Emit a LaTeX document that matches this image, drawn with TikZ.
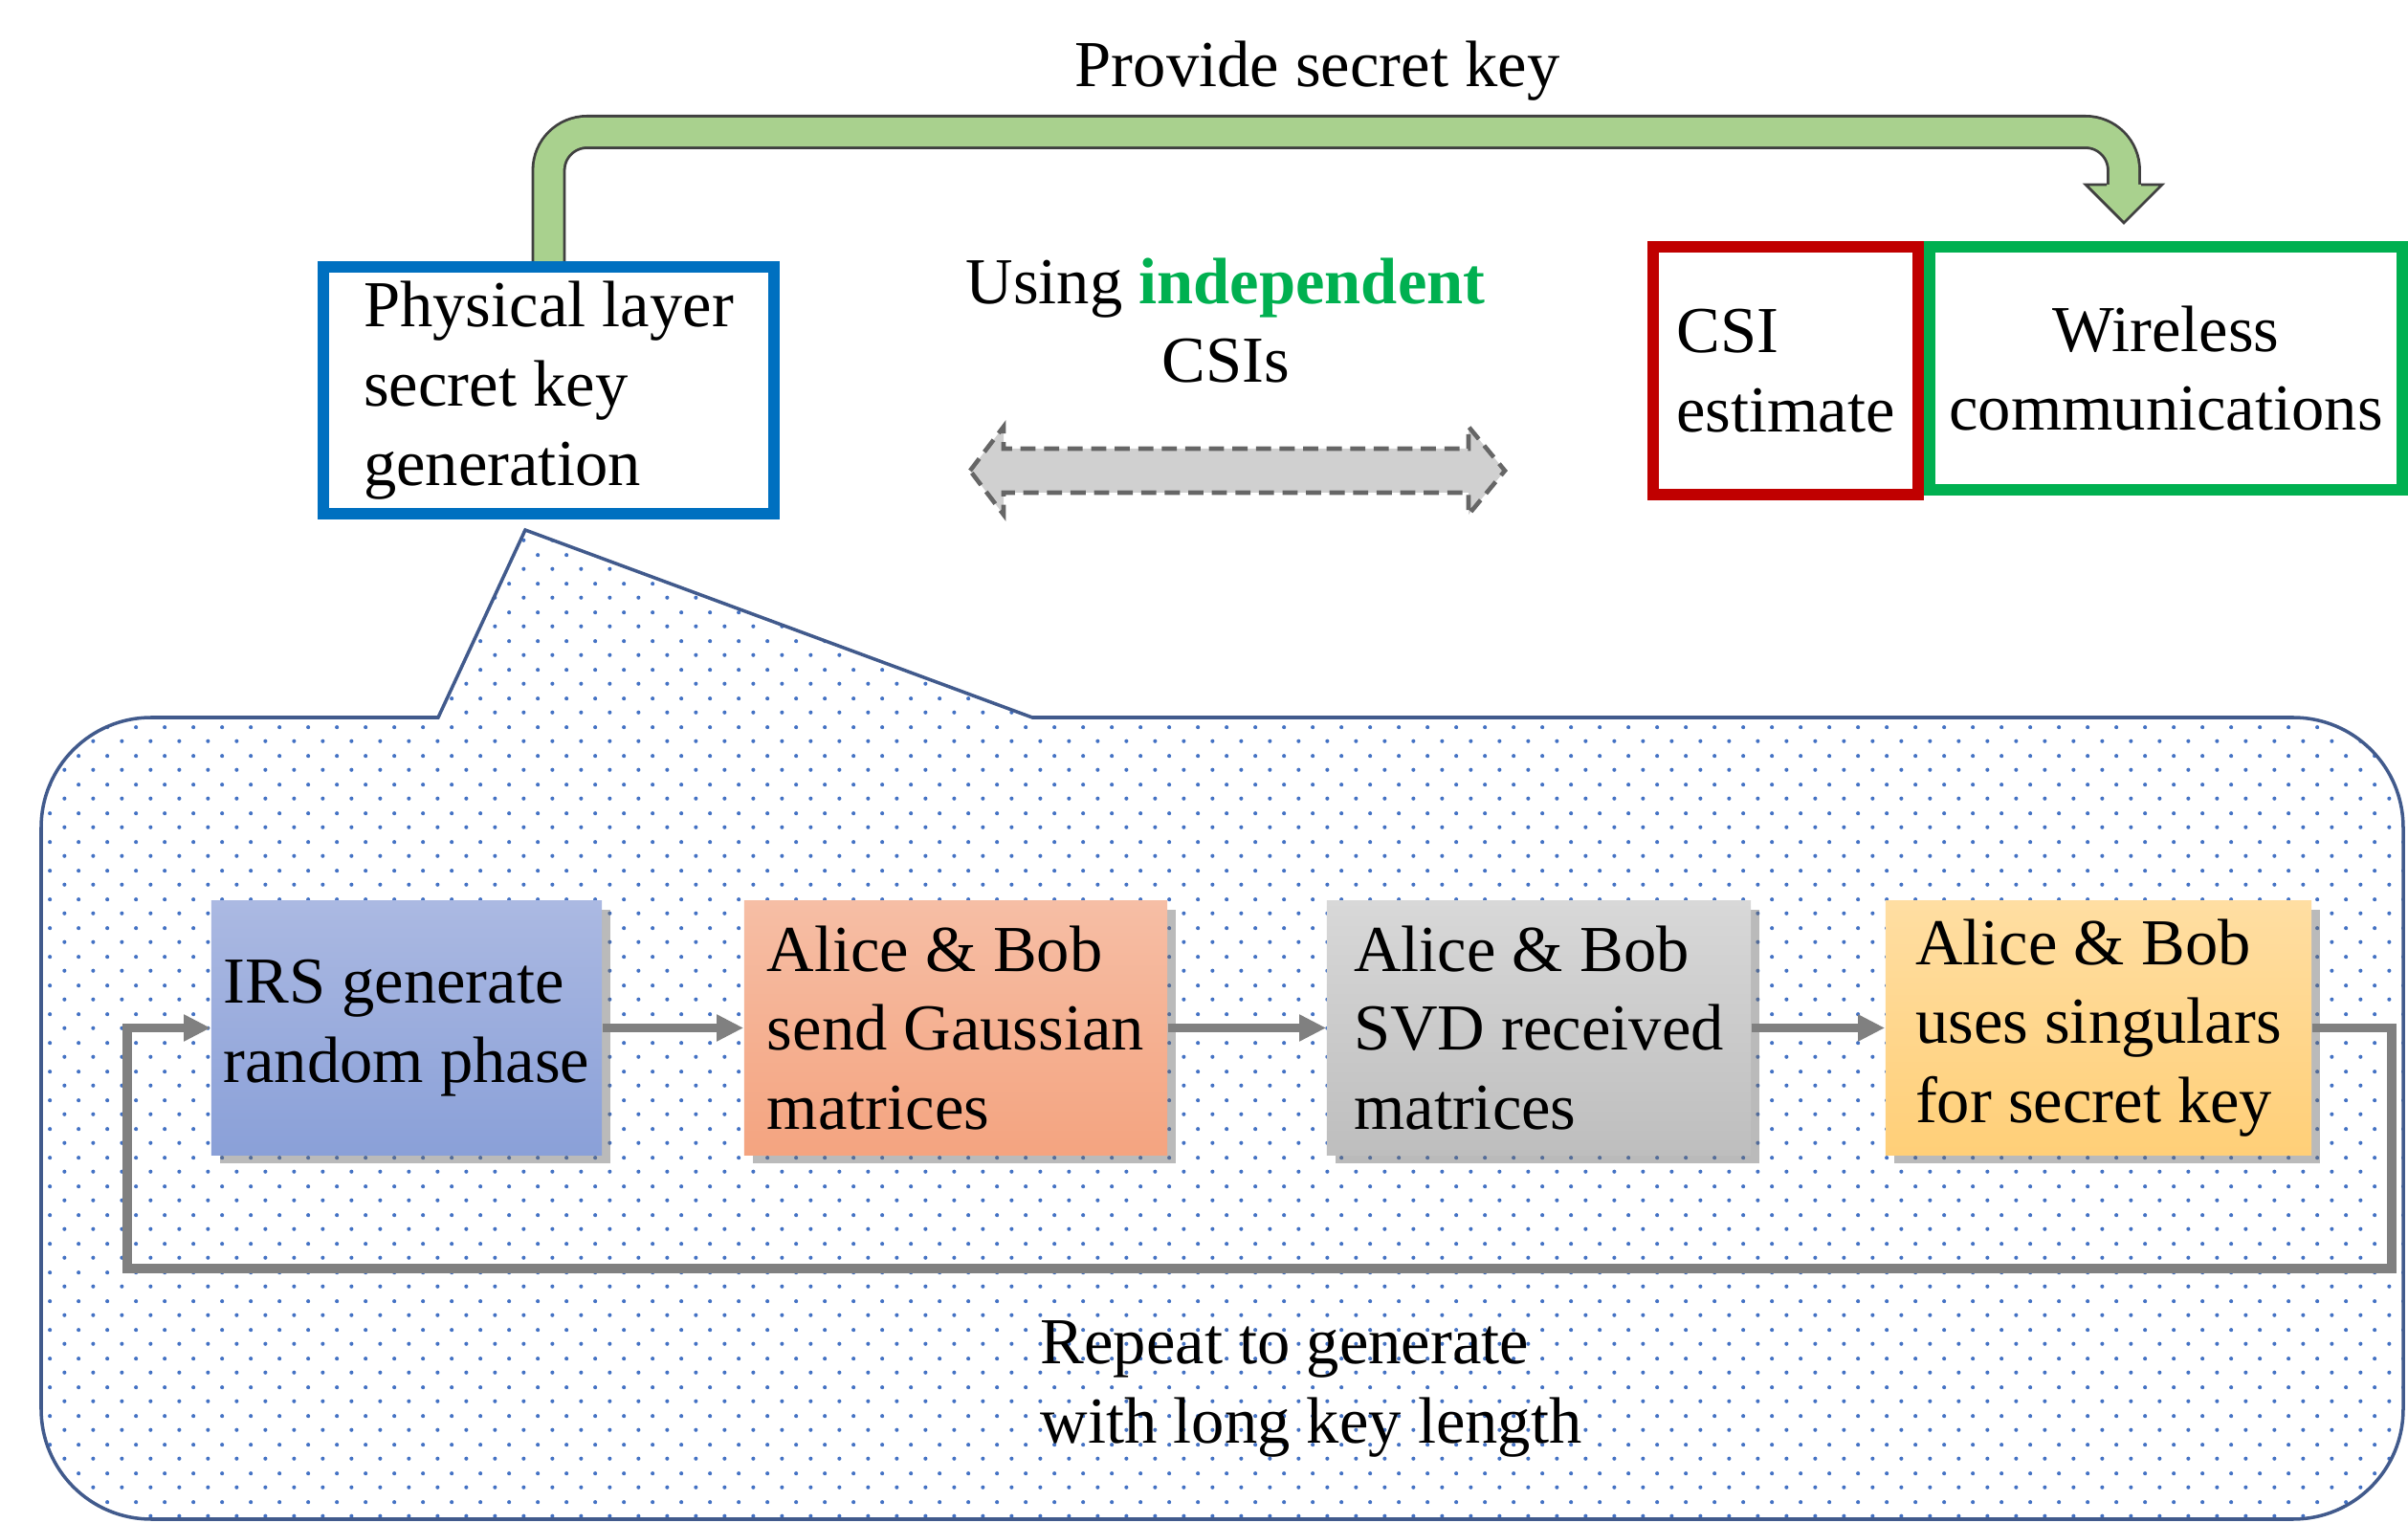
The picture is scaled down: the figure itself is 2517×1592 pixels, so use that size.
\documentclass[tikz,border=0pt]{standalone}
\usepackage{fontspec}
\setmainfont{Liberation Serif}
\usepackage{tikz}
\usetikzlibrary{arrows.meta,positioning,calc,shadows,patterns}
\definecolor{phyblue}{RGB}{0,112,192}
\definecolor{csired}{RGB}{192,0,0}
\definecolor{wirelessgreen}{RGB}{0,176,80}
\definecolor{keygreen}{RGB}{169,209,142}
\definecolor{dotblue}{RGB}{68,114,196}
\definecolor{calloutline}{RGB}{65,90,140}
\definecolor{flowgray}{RGB}{128,128,128}
\definecolor{csiarrow}{RGB}{208,208,208}
\definecolor{irstop}{RGB}{171,185,226}
\definecolor{irsbot}{RGB}{138,160,216}
\definecolor{gausstop}{RGB}{246,190,165}
\definecolor{gaussbot}{RGB}{244,164,128}
\definecolor{svdtop}{RGB}{216,216,216}
\definecolor{svdbot}{RGB}{190,190,190}
\definecolor{keytop}{RGB}{255,222,162}
\definecolor{keybot}{RGB}{255,207,120}
\newcommand{\boxfont}{\fontsize{19.5}{23.5}\selectfont}
\pgfdeclarepatternformonly{bluedots}{\pgfpointorigin}{\pgfqpoint{8.6pt}{8.4pt}}{\pgfqpoint{8.6pt}{8.4pt}}{%
  \pgfpathcircle{\pgfqpoint{2.15pt}{2.1pt}}{0.6pt}%
  \pgfpathcircle{\pgfqpoint{6.45pt}{6.3pt}}{0.6pt}%
  \pgfusepath{fill}}

\begin{document}
\begin{tikzpicture}[
    x=0.01cm, y=-0.01cm,
    topbox/.style={draw, line width=3.4pt, font=\boxfont, align=left, inner sep=0pt},
    stepbox/.style={font=\boxfont, align=left, inner sep=0pt, minimum height=2.65cm,
        drop shadow={shadow xshift=2.5pt, shadow yshift=-2.5pt, opacity=0.45, fill=black!60}},
    flow/.style={draw=flowgray, line width=2.6pt, -{Triangle[length=8pt,width=7.5pt]}},
    lbl/.style={font=\boxfont, inner sep=0pt}
]
\useasboundingbox (0,0) rectangle (2517,1592);

% 吹き出し
\draw[draw=calloutline, line width=1pt, preaction={fill=white}, pattern=bluedots, pattern color=dotblue]
    (300,750) -- (458,750) -- (549,554) -- (1079,750) -- (1200,750)
    [rounded corners=1.15cm] -- (2512,750) -- (2512,1588) -- (43,1588) -- (43,750) -- cycle;

% 上段のブロック
\node[topbox, draw=phyblue, minimum width=4.71cm, minimum height=2.58cm] (phy) at (573.5,408) {Physical layer\\secret key\\generation};
\node[topbox, draw=csired, minimum width=2.77cm, minimum height=2.59cm] (csi) at (1866.5,387.5) {CSI\\estimate};
\node[topbox, draw=wirelessgreen, align=center, minimum width=4.94cm, minimum height=2.54cm] (wl) at (2264,385) {Wireless\\communications};

% 鍵の受け渡し
\coordinate (keyin) at (2220,193);
\draw[draw=black!75, line width=0.8pt, double=keygreen, double distance=8.6pt, rounded corners=0.4cm]
    (phy.north) -- ++(0,-135) -| (keyin);
\filldraw[fill=keygreen, draw=black!75, line width=0.8pt]
    ($(keyin)+(-18,0)$) -- ($(keyin)+(-40,0)$) -- ($(keyin)+(0,40)$) -- ($(keyin)+(40,0)$) -- ($(keyin)+(18,0)$);
\node[lbl, anchor=base] (provide) at (1377,91) {Provide secret key};

% 独立なCSI
\node[lbl, align=center] (using) at (1281,335) {Using \textcolor{wirelessgreen}{\textbf{independent}}\\CSIs};
\draw[draw=black!60, fill=csiarrow, line width=1.3pt, dash pattern=on 4.5pt off 2.5pt]
    (1014,492) -- (1049,446) -- (1049,469) -- (1535,469) -- (1535,446) -- (1573,492)
    -- (1535,538) -- (1535,515) -- (1049,515) -- (1049,538) -- cycle;

% 手順
\node[stepbox, top color=irstop, bottom color=irsbot, minimum width=4.08cm] (irs) at (425,1074.5) {IRS generate\\random phase};
\node[stepbox, top color=gausstop, bottom color=gaussbot, minimum width=4.42cm] (gauss) at (999,1074.5) {Alice \& Bob\\send Gaussian\\matrices};
\node[stepbox, top color=svdtop, bottom color=svdbot, minimum width=4.43cm] (svd) at (1608.5,1074.5) {Alice \& Bob\\SVD received\\matrices};
\node[stepbox, top color=keytop, bottom color=keybot, minimum width=4.45cm] (quant) at (2193.5,1074.5) {Alice \& Bob\\uses singulars\\for secret key};

\foreach \a/\b in {irs/gauss, gauss/svd, svd/quant}
    \draw[flow] (\a) -- (\b);

% 繰り返し
\coordinate (loopR) at (2500,1326);
\coordinate (loopL) at (133,1326);
\draw[flow] (quant.east) -| (loopR) -- (loopL) |- (irs.west);
\node[lbl, align=left, anchor=west] (repeat) at (1087,1452) {Repeat to generate\\with long key length};
\end{tikzpicture}
\end{document}
